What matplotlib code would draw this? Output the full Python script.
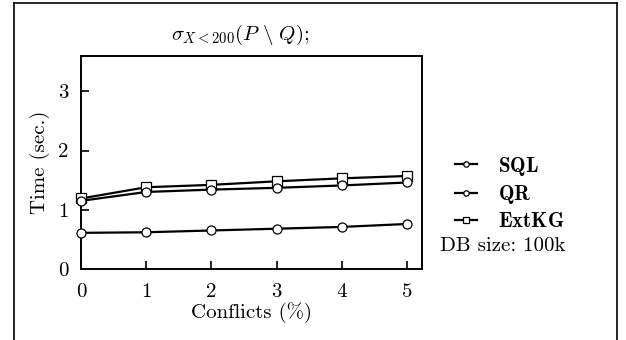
import matplotlib
matplotlib.use("Agg")
import matplotlib.pyplot as plt
from matplotlib.lines import Line2D

plt.rcParams['font.family'] = 'cmr10'
plt.rcParams['mathtext.fontset'] = 'cm'
plt.rcParams['axes.formatter.use_mathtext'] = True

conflicts = [0, 1, 2, 3, 4, 5]
sql_time = [0.61, 0.62, 0.65, 0.68, 0.71, 0.76]
qr_time = [1.15, 1.30, 1.34, 1.37, 1.41, 1.46]
extkg_time = [1.19, 1.38, 1.42, 1.48, 1.53, 1.57]
series_names = ['SQL', 'QR', 'ExtKG']
y_ticks = [0, 1, 2, 3]

fs = 15
fig = plt.figure(figsize=(6.26, 3.4), dpi=100)
ax = fig.add_axes([81/626, 1-269/340, (422-81)/626, (269-55.7)/340])

mk = dict(color='black', lw=1.6, markerfacecolor='white', markeredgecolor='black',
          markeredgewidth=0.9, markersize=6.5, clip_on=False, zorder=3)
ax.plot(conflicts, sql_time, marker='o', label=r'$\mathbf{%s}$' % series_names[0], **mk)
ax.plot(conflicts, extkg_time, marker='s', label=r'$\mathbf{%s}$' % series_names[2], **mk)
ax.plot(conflicts, qr_time, marker='o', label=r'$\mathbf{%s}$' % series_names[1], **mk)

ax.set_xlim(0, 5.23)
ax.set_ylim(0, 3.6)
ax.set_xticks(conflicts)
ax.set_xticklabels([str(c) for c in conflicts])
ax.set_yticks(y_ticks)
ax.set_yticklabels([str(t) for t in y_ticks])
ax.tick_params(direction='in', length=6, width=1.2, labelsize=fs, top=False, right=False)
ax.tick_params(axis='x', pad=10)
ax.tick_params(axis='y', pad=9)
for s in ax.spines.values():
    s.set_linewidth(1.4)
ax.set_xlabel('Conflicts (%)', fontsize=fs, labelpad=1)
ax.set_ylabel('Time (sec.)', fontsize=fs, labelpad=6)

fig.text(240/626, 1-35/340, r'$\sigma_{X<200}(P \ \backslash\ Q);$', fontsize=fs, ha='center', va='center')

# legend outside, order SQL, QR, ExtKG
handles, labels = ax.get_legend_handles_labels()
order = [0, 2, 1]
leg = fig.legend([handles[i] for i in order], [labels[i] for i in order],
                 loc='center left', bbox_to_anchor=(455/626, 1-193/340),
                 frameon=False, fontsize=fs, handlelength=1.05, handletextpad=1.0,
                 labelspacing=0.28, markerscale=0.6, borderpad=0, borderaxespad=0)
fig.text(440/626, 1-246/340, 'DB size: 100k', fontsize=fs, ha='left', va='center')

# outer frame (left, top, right)
fr = dict(color='black', lw=1.2, transform=fig.transFigure)
fig.add_artist(Line2D([14/626, 14/626], [0, 1-3.3/340], **fr))
fig.add_artist(Line2D([14/626, 617/626], [1-3.3/340, 1-3.3/340], **fr))
fig.add_artist(Line2D([617/626, 617/626], [0, 1-3.3/340], **fr))

fig.savefig('out.png', dpi=100)
